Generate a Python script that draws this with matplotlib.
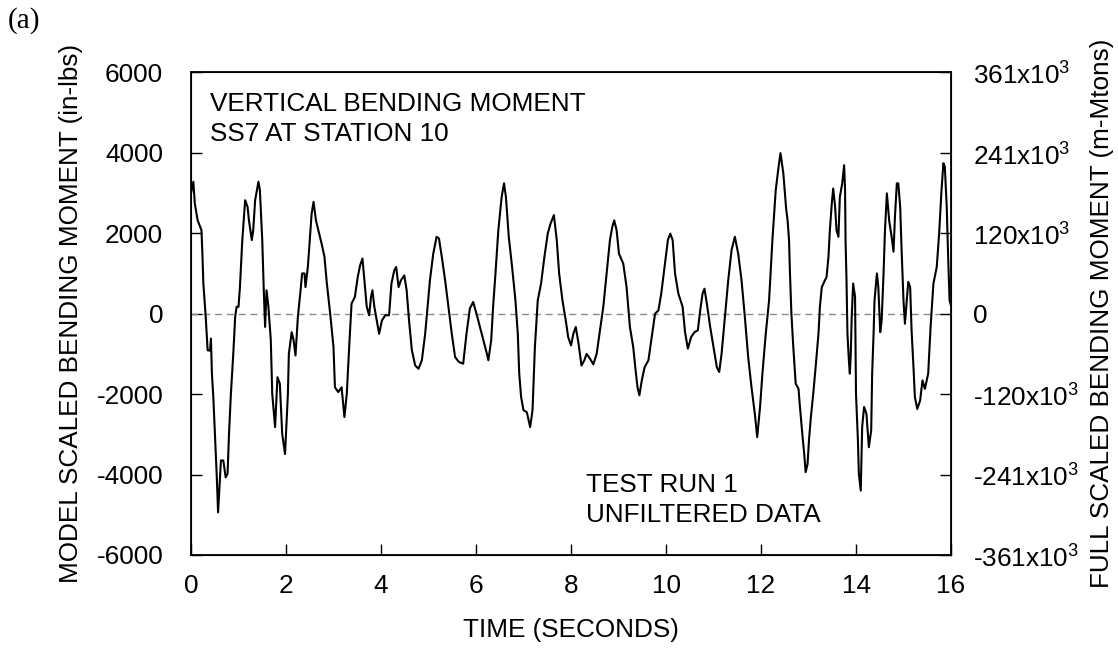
import matplotlib
matplotlib.use("Agg")
import matplotlib.pyplot as plt

# time (s) and model scaled bending moment (in-lbs)
time_s = [
    0.00, 0.05, 0.08, 0.14, 0.18, 0.22, 0.24, 0.26, 0.31, 0.35, 0.40, 0.42, 0.44, 0.47,
    0.51, 0.54, 0.57, 0.60, 0.63, 0.68, 0.73, 0.77, 0.80, 0.84, 0.89, 0.93, 0.96, 1.00,
    1.03, 1.08, 1.14, 1.19, 1.22, 1.28, 1.31, 1.35, 1.42, 1.45, 1.50, 1.53, 1.56, 1.59,
    1.63, 1.68, 1.71, 1.77, 1.82, 1.87, 1.92, 1.98, 2.04, 2.06, 2.12, 2.16, 2.20, 2.25,
    2.30, 2.34, 2.39, 2.41, 2.46, 2.51, 2.54, 2.58, 2.63, 2.68, 2.75, 2.81, 2.86, 2.93,
    3.00, 3.03, 3.10, 3.17, 3.23, 3.28, 3.33, 3.38, 3.45, 3.51, 3.56, 3.61, 3.65, 3.70,
    3.75, 3.79, 3.82, 3.86, 3.91, 3.96, 4.02, 4.09, 4.17, 4.22, 4.28, 4.32, 4.37, 4.42,
    4.49, 4.54, 4.59, 4.65, 4.72, 4.79, 4.86, 4.93, 4.98, 5.03, 5.10, 5.17, 5.22, 5.28,
    5.35, 5.42, 5.49, 5.56, 5.64, 5.73, 5.80, 5.87, 5.94, 6.01, 6.12, 6.23, 6.26, 6.32,
    6.36, 6.41, 6.47, 6.54, 6.59, 6.63, 6.69, 6.76, 6.83, 6.88, 6.91, 6.95, 7.00, 7.07,
    7.14, 7.19, 7.24, 7.30, 7.37, 7.44, 7.51, 7.57, 7.64, 7.70, 7.75, 7.82, 7.89, 7.94,
    8.00, 8.05, 8.10, 8.16, 8.22, 8.28, 8.33, 8.40, 8.47, 8.54, 8.61, 8.68, 8.75, 8.82,
    8.87, 8.91, 8.96, 9.01, 9.10, 9.17, 9.24, 9.31, 9.36, 9.40, 9.44, 9.49, 9.55, 9.63,
    9.70, 9.77, 9.84, 9.90, 9.97, 10.04, 10.09, 10.14, 10.19, 10.26, 10.35, 10.40, 10.46,
    10.53, 10.60, 10.67, 10.72, 10.77, 10.81, 10.86, 10.93, 11.00, 11.07, 11.12, 11.17,
    11.24, 11.31, 11.38, 11.45, 11.52, 11.59, 11.66, 11.73, 11.80, 11.87, 11.92, 11.98,
    12.03, 12.10, 12.17, 12.24, 12.31, 12.37, 12.41, 12.47, 12.53, 12.56, 12.59, 12.61,
    12.64, 12.68, 12.73, 12.79, 12.82, 12.87, 12.91, 12.94, 12.98, 13.01, 13.05, 13.10,
    13.15, 13.21, 13.24, 13.28, 13.33, 13.38, 13.42, 13.45, 13.49, 13.52, 13.56, 13.59,
    13.63, 13.66, 13.71, 13.75, 13.77, 13.78, 13.80, 13.82, 13.85, 13.87, 13.89, 13.91,
    13.94, 13.98, 14.00, 14.04, 14.06, 14.10, 14.13, 14.17, 14.22, 14.27, 14.32, 14.34,
    14.37, 14.39, 14.44, 14.47, 14.51, 14.54, 14.58, 14.61, 14.65, 14.70, 14.75, 14.79,
    14.82, 14.86, 14.89, 14.93, 14.96, 15.00, 15.03, 15.07, 15.10, 15.14, 15.17, 15.21,
    15.24, 15.29, 15.35, 15.40, 15.45, 15.52, 15.57, 15.63, 15.70, 15.75, 15.80, 15.84,
    15.87, 15.91, 15.94, 15.97, 16.00,
]
moment_inlbs = [
    2990, 3280, 2740, 2320, 2200, 2075, 1490, 750, -80, -910, -920, -620, -1490, -2075,
    -3150, -3980, -4940, -4300, -3650, -3650, -4070, -3980, -2990, -1990, -1000, -80, 170, 170,
    660, 1830, 2820, 2660, 2320, 1830, 2075, 2820, 3280, 3070, 1830, 660, -330, 580,
    170, -660, -1990, -2820, -1580, -1740, -2990, -3490, -1990, -1000, -460, -660, -1040, -80,
    500, 1000, 1000, 660, 1160, 1990, 2490, 2780, 2320, 2075, 1740, 1410, 750, 0,
    -830, -1830, -1950, -1830, -2570, -1990, -830, 250, 415, 910, 1200, 1370, 830, 170,
    -40, 415, 580, 170, -170, -500, -170, -40, -40, 750, 1080, 1160, 660, 830,
    950, 580, -170, -910, -1290, -1370, -1160, -500, 170, 830, 1490, 1910, 1870, 1410,
    830, 170, -500, -1080, -1200, -1245, -500, 125, 290, 0, -500, -1000, -1160, -660,
    170, 1000, 2075, 2900, 3240, 2900, 1910, 1160, 330, -500, -1490, -2075, -2400, -2450,
    -2820, -2400, -830, 330, 750, 1410, 1990, 2240, 2450, 1830, 1000, 330, -170, -580,
    -790, -500, -330, -750, -1290, -1160, -1000, -1120, -1260, -1000, -415, 170, 1000, 1830,
    2160, 2320, 2075, 1490, 1245, 660, -330, -830, -1410, -1830, -2030, -1660, -1330, -1160,
    -580, 0, 80, 500, 1160, 1830, 1990, 1830, 1000, 500, 170, -450, -870,
    -580, -460, -415, 80, 500, 620, 250, -330, -830, -1330, -1450, -1000,
    -80, 830, 1580, 1910, 1490, 830, -80, -1080, -1830, -2490, -3070, -2320,
    -1490, -500, 330, 1830, 3070, 3650, 3990, 3490, 2600, 2320, 1830, 1000,
    0, -830, -1740, -1870, -2320, -2990, -3490, -3940, -3740, -3150, -2570, -1990,
    -1330, -500, 170, 660, 790, 910, 1410, 2075, 2740, 3110, 2660, 2075,
    1910, 2900, 3240, 3690, 3070, 1830, 830, -500, -1160, -1490, -1000, -80,
    750, 415, -1990, -3150, -3980, -4400, -2820, -2320, -2490, -3320, -2900, -1490,
    -500, 330, 1000, 660, -460, -170, 1000, 2075, 2990, 2300, 1910, 1540,
    2410, 3240, 3240, 2660, 1580, 330, -250, 330, 790, 660, -415, -1330,
    -2075, -2370, -2160, -1660, -1870, -1490, -330, 750, 1160, 1990, 3070, 3740,
    3650, 2660, 1410, 330, 200,
]

y_ticks = [-6000, -4000, -2000, 0, 2000, 4000, 6000]
full_scale_values = ["-361", "-241", "-120", "0", "120", "241", "361"]
x_ticks = [0, 2, 4, 6, 8, 10, 12, 14, 16]


def main():
    plt.rcParams["font.family"] = ["Liberation Sans", "DejaVu Sans"]
    plt.rcParams["font.size"] = 18.8
    plt.rcParams["axes.unicode_minus"] = False
    plt.rcParams["mathtext.fontset"] = "custom"
    plt.rcParams["mathtext.rm"] = "Liberation Sans"

    W, H = 1118, 649
    fig = plt.figure(figsize=(W / 100, H / 100), dpi=100)
    ax = fig.add_axes([191 / W, 1 - 555 / H, 760 / W, (555 - 72.3) / H])

    ax.axhline(0, color="#8c8c8c", lw=1.0, ls=(0, (5, 3.5)))
    ax.plot(time_s, moment_inlbs, color="black", lw=1.5)

    ax.set_xlim(0, 16)
    ax.set_ylim(-6000, 6000)
    ax.set_xticks(x_ticks)
    ax.set_yticks(y_ticks)
    ax.tick_params(axis="x", direction="in", length=8, width=1, pad=14)
    ax.tick_params(axis="y", direction="in", length=8, width=1, pad=20)
    for s in ax.spines.values():
        s.set_linewidth(1.3)

    # right axis: full scale values, same tick positions
    ax2 = ax.twinx()
    ax2.set_ylim(-6000, 6000)
    ax2.set_yticks(y_ticks)
    labels = [v if v == "0" else v + r"x10$^{\mathregular{3}}$" for v in full_scale_values]
    ax2.set_yticklabels(labels)
    ax2.tick_params(axis="y", direction="in", length=8, width=1, pad=16)

    ax.set_xlabel("TIME (SECONDS)", labelpad=14)
    ax.set_ylabel("MODEL SCALED BENDING MOMENT (in-lbs)", labelpad=10)
    ax2.set_ylabel("FULL SCALED BENDING MOMENT (m-Mtons)", labelpad=8)

    fig.text(210 / W, 1 - 111 / H, "VERTICAL BENDING MOMENT", va="baseline")
    fig.text(210 / W, 1 - 141 / H, "SS7 AT STATION 10", va="baseline")
    fig.text(586 / W, 1 - 492 / H, "TEST RUN 1", va="baseline")
    fig.text(586 / W, 1 - 522 / H, "UNFILTERED DATA", va="baseline")
    fig.text(8 / W, 1 - 28 / H, "(a)", va="baseline", family="Liberation Serif", fontsize=21)

    fig.savefig("out.png", dpi=100)


main()
